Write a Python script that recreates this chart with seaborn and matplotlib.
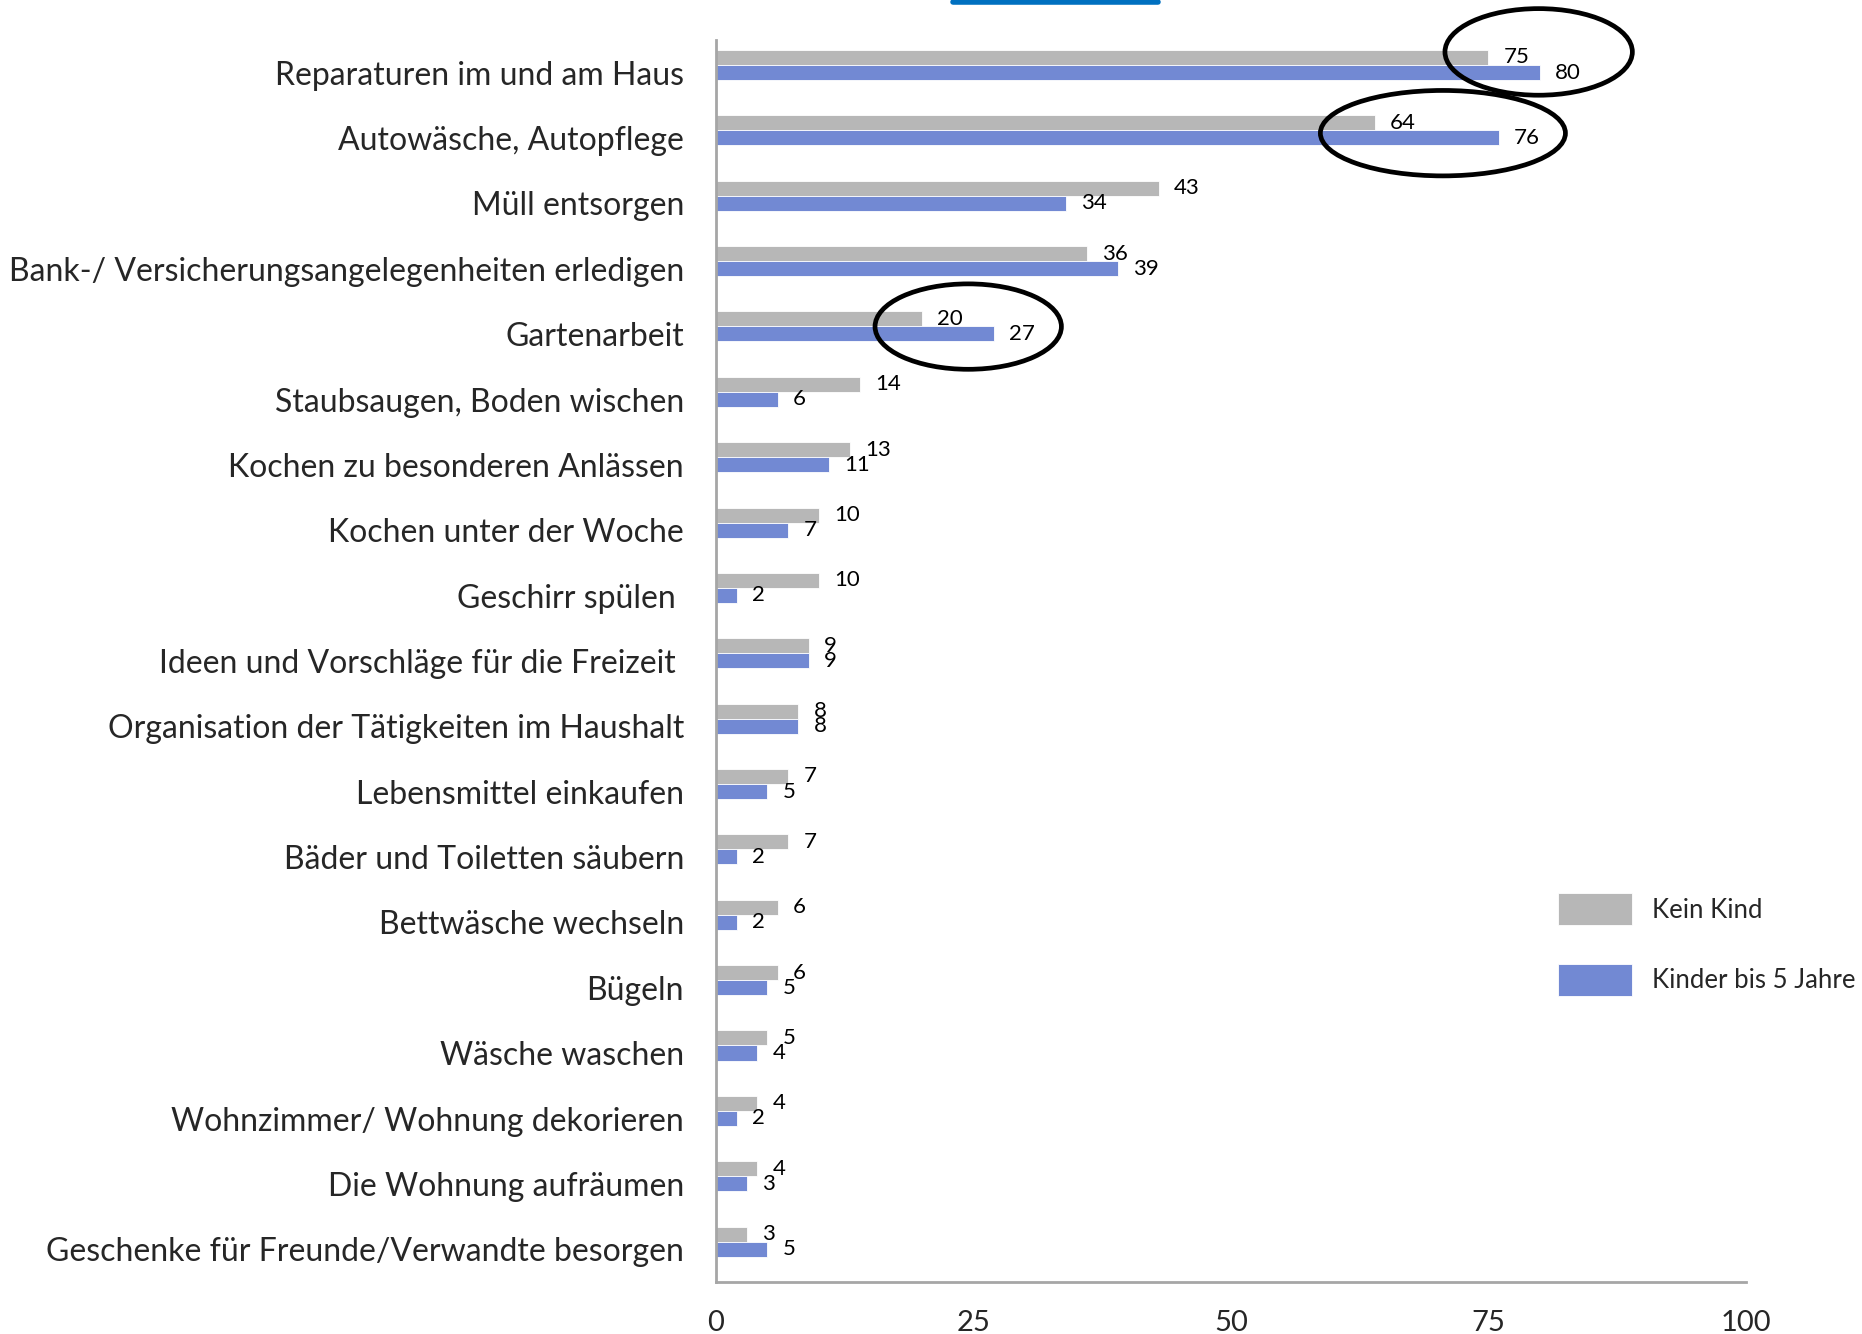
import pandas as pd
import matplotlib.pyplot as plt
import seaborn as sns
from matplotlib.patches import Ellipse
from matplotlib.lines import Line2D

# values (percent)
categories = ['Reparaturen im und am Haus', 'Autowäsche, Autopflege', 'Müll entsorgen',
              'Bank-/ Versicherungsangelegenheiten erledigen', 'Gartenarbeit',
              'Staubsaugen, Boden wischen', 'Kochen zu besonderen Anlässen',
              'Kochen unter der Woche', 'Geschirr spülen ', 'Ideen und Vorschläge für die Freizeit ',
              'Organisation der Tätigkeiten im Haushalt', 'Lebensmittel einkaufen',
              'Bäder und Toiletten säubern', 'Bettwäsche wechseln', 'Bügeln', 'Wäsche waschen',
              'Wohnzimmer/ Wohnung dekorieren', 'Die Wohnung aufräumen',
              'Geschenke für Freunde/Verwandte besorgen']
kein_kind = [75, 64, 43, 36, 20, 14, 13, 10, 10, 9, 8, 7, 7, 6, 6, 5, 4, 4, 3]
kinder_bis_5 = [80, 76, 34, 39, 27, 6, 11, 7, 2, 9, 8, 5, 2, 2, 5, 4, 2, 3, 5]
series_names = ['Kein Kind', 'Kinder bis 5 Jahre']
colors = ['#B7B7B7', '#7289D3']
x_ticks = [0, 25, 50, 75, 100]

df = pd.DataFrame({'Task': categories * 2,
                   'Value': kein_kind + kinder_bis_5,
                   'Group': [series_names[0]] * len(categories) + [series_names[1]] * len(categories)})

sns.set_style('white')
plt.rcParams['font.family'] = ['Lato', 'DejaVu Sans']

fig = plt.figure(figsize=(18.62, 13.34), dpi=100)
ax = fig.add_axes([0.3845, 0.039, 0.553, 0.931])

sns.barplot(data=df, x='Value', y='Task', hue='Group', hue_order=series_names,
            palette=colors, orient='h', width=0.46, saturation=1,
            edgecolor='white', linewidth=0.6, ax=ax)

# bars sit a little above the middle of each category
for cont in ax.containers:
    for p in cont:
        p.set_y(p.get_y() - 0.118)
    ax.bar_label(cont, padding=11, fontsize=16, color='black')

ax.set_xlim(0, 100)
ax.set_ylim(len(categories) - 0.5, -0.5)
ax.set_xticks(x_ticks)
ax.set_xlabel('')
ax.set_ylabel('')
ax.tick_params(axis='x', length=7, width=1.5, color='#A6A6A6', direction='out', pad=13, labelsize=21)
ax.tick_params(axis='y', which='major', length=0, pad=23, labelsize=23)
ax.set_yticks([i - 0.5 for i in range(len(categories) + 1)], minor=True)
ax.tick_params(axis='y', which='minor', length=7, width=1.5, color='#A6A6A6', direction='out')
for s in ['top', 'right']:
    ax.spines[s].set_visible(False)
for s in ['left', 'bottom']:
    ax.spines[s].set_color('#A6A6A6')
    ax.spines[s].set_linewidth(2)

# highlight ellipses
for cx, cy, w, h in [(79.9, -0.318, 18.2, 1.325), (70.6, 0.925, 23.8, 1.307), (24.5, 3.884, 18.1, 1.307)]:
    ax.add_patch(Ellipse((cx, cy), w, h, fill=False, edgecolor='black', linewidth=3.4, clip_on=False, zorder=5))

handles, labels = ax.get_legend_handles_labels()
ax.get_legend().remove()
fig.legend(handles, labels, loc='center left', bbox_to_anchor=(0.837, 0.292), frameon=False,
           fontsize=18.5, handlelength=2.85, handleheight=1.55, labelspacing=1.5,
           handletextpad=0.8, borderpad=0, borderaxespad=0)

# blue rule under the (cropped) title
fig.add_artist(Line2D([953 / 1862, 1158 / 1862], [1 - 2 / 1334, 1 - 2 / 1334],
                      color='#0070C0', linewidth=4, transform=fig.transFigure))

fig.savefig('out.png', dpi=100)
